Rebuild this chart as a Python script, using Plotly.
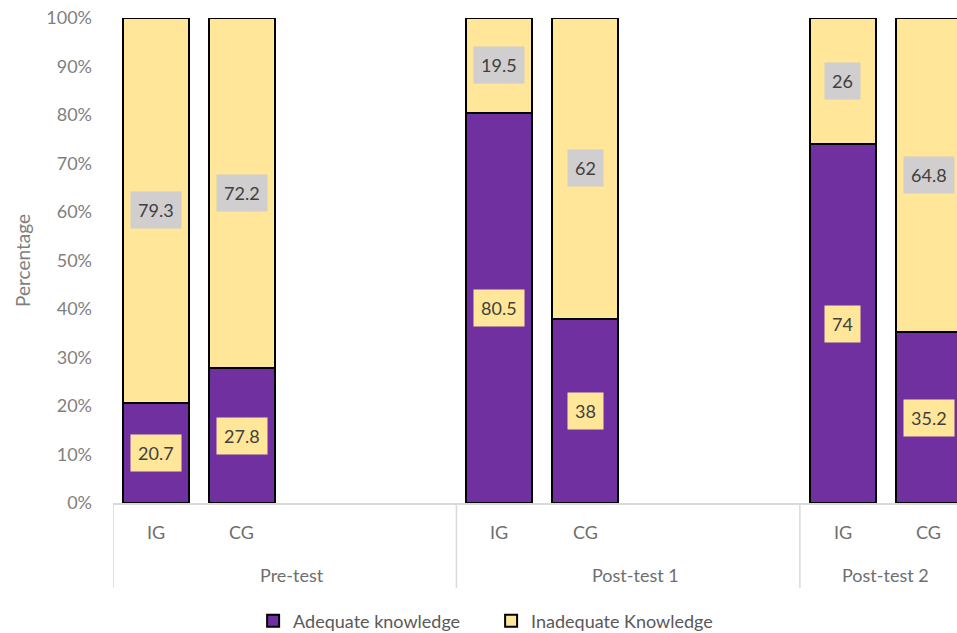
import plotly.graph_objects as go

groups = ["Pre-test", "Post-test 1", "Post-test 2"]
subgroups = ["IG", "CG"]
adequate = [20.7, 27.8, 80.5, 38, 74, 35.2]
inadequate = [79.3, 72.2, 19.5, 62, 26, 64.8]
y_ticks = list(range(0, 101, 10))
y_ticktext = [f"{v}%" for v in y_ticks]

slots_per_group = 4
x_range = [-0.5, 9.33]

xpos = []
for gi in range(len(groups)):
    for si in range(len(subgroups)):
        xpos.append(gi * slots_per_group + si)

FONT = "Lato"
PURPLE = "#7030a0"
YELLOW = "#ffe699"
GRAYBOX = "#d0cece"

fig = go.Figure()
fig.add_trace(go.Bar(x=xpos, y=adequate, name="Adequate knowledge", width=0.77,
                     marker=dict(color=PURPLE, line=dict(color="#000000", width=2))))
fig.add_trace(go.Bar(x=xpos, y=inadequate, name="Inadequate Knowledge", width=0.77,
                     marker=dict(color=YELLOW, line=dict(color="#000000", width=2))))

ann = []
for x, a, b in zip(xpos, adequate, inadequate):
    ann.append(dict(x=x, y=a / 2, xref="x", yref="y", text=f"{a:g}", showarrow=False,
                    bgcolor=YELLOW, borderpad=7, font=dict(family=FONT, size=18, color="#404040")))
    ann.append(dict(x=x, y=a + b / 2, xref="x", yref="y", text=f"{b:g}", showarrow=False,
                    bgcolor=GRAYBOX, borderpad=7, font=dict(family=FONT, size=18, color="#404040")))

# sub-category labels
for gi in range(len(groups)):
    for si, s in enumerate(subgroups):
        ann.append(dict(x=gi * slots_per_group + si, y=0, xref="x", yref="paper", text=s,
                        showarrow=False, yanchor="middle", yshift=-29,
                        font=dict(family=FONT, size=18, color="#6e6e6e")))

shapes = []
for gi, g in enumerate(groups):
    start = gi * slots_per_group - 0.5
    end = start + slots_per_group
    vis_start = max(start, x_range[0])
    vis_end = min(end, x_range[1])
    ann.append(dict(x=(vis_start + vis_end) / 2 + 0.08, y=0, xref="x", yref="paper", text=g,
                    showarrow=False, yanchor="middle", yshift=-72,
                    font=dict(family=FONT, size=18, color="#6e6e6e")))
    shapes.append(dict(type="line", xref="x", yref="paper", x0=start, x1=start,
                       y0=0, y1=-85 / 485, line=dict(color="#d9d9d9", width=1.5)))

fig.update_layout(
    barmode="stack",
    width=957, height=633,
    margin=dict(l=113, r=0, t=18, b=130),
    plot_bgcolor="white", paper_bgcolor="white",
    font=dict(family=FONT, size=18, color="#7f7f7f"),
    annotations=ann, shapes=shapes,
    showlegend=True,
    legend=dict(orientation="h", x=0.448, xanchor="center",
                yref="container", y=1 - 621 / 633, yanchor="middle",
                font=dict(family=FONT, size=18, color="#595959"),
                traceorder="normal", itemwidth=30, entrywidth=193),
    xaxis=dict(range=x_range, showticklabels=False, showgrid=False, zeroline=False,
               showline=True, linecolor="#d9d9d9", linewidth=1.5, ticks=""),
    yaxis=dict(range=[0, 100], tickmode="array", tickvals=y_ticks, ticktext=y_ticktext,
               showgrid=False, zeroline=False, showline=False, ticks="", ticklabelstandoff=20,
               tickfont=dict(family=FONT, size=18, color="#7f7f7f"),
               title=dict(text="Percentage", standoff=10,
                          font=dict(family=FONT, size=19, color="#7f7f7f"))),
)

fig.write_html("out.html", config={"displayModeBar": False},
               post_script="document.body.style.margin='0';")
